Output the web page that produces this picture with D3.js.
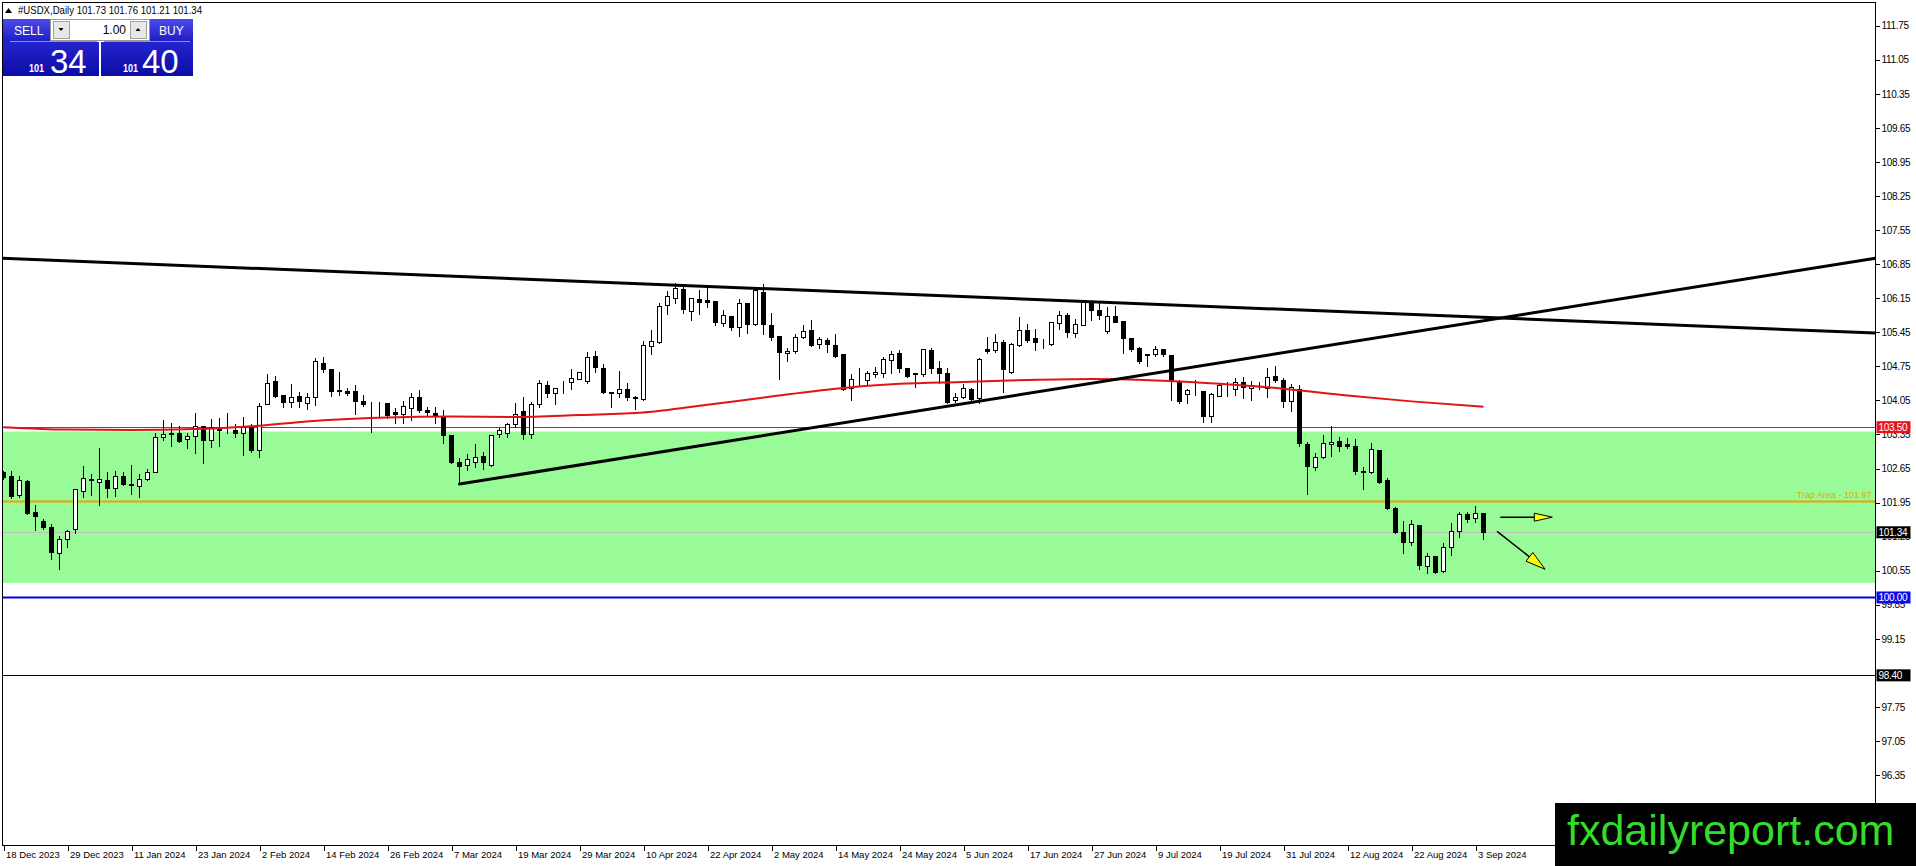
<!DOCTYPE html>
<html>
<head>
<meta charset="utf-8">
<script src="https://cdn.jsdelivr.net/npm/d3@7"></script>
<style>
  html, body { margin: 0; padding: 0; background: #fff; overflow: hidden; }
  svg { display: block; font-family: "Liberation Sans", Arial, sans-serif; }
</style>
</head>
<body>
<div id="chart"></div>
<script>
// daily candles, bar 0 = 18 Dec 2023 ... bar 185 = 4 Sep 2024
const opens = [
  102.58,102.50,102.11,102.40,101.75,101.57,101.44,100.91,101.21,101.40,
  102.19,102.43,102.38,102.41,102.26,102.50,102.33,102.30,102.43,102.57,
  103.29,103.37,103.39,103.25,103.32,103.53,103.24,103.47,103.47,103.44,
  103.39,103.50,103.04,103.97,104.45,104.16,104.01,104.14,103.99,104.11,
  104.81,104.69,104.26,104.24,104.24,104.04,103.94,103.94,104.00,103.82,
  103.78,103.90,104.11,103.85,103.80,103.73,103.34,102.78,102.73,102.79,
  102.91,102.73,103.36,103.38,103.56,103.83,103.35,103.97,104.37,104.20,
  104.29,104.42,104.50,104.44,104.96,104.72,104.22,104.20,104.28,104.11,
  104.07,105.17,105.24,106.01,106.16,106.34,105.89,106.13,106.11,106.09,
  105.65,105.79,105.55,106.05,105.63,106.27,105.60,105.37,105.02,105.07,
  105.35,105.50,105.21,105.29,105.19,105.00,104.30,104.48,104.46,104.59,
  104.61,104.89,105.02,104.71,104.61,104.59,105.09,104.71,104.61,104.05,
  104.13,104.28,104.09,105.10,105.09,105.26,104.64,105.19,105.50,105.33,
  105.25,105.20,105.64,105.81,105.44,105.60,106.05,105.91,105.48,105.79,
  105.68,105.33,105.12,104.98,105.00,105.10,104.98,104.42,104.18,104.25,
  104.25,103.72,104.14,104.30,104.29,104.42,104.31,104.33,104.30,104.55,
  104.46,104.03,104.28,103.16,102.69,102.88,103.16,103.22,103.16,103.11,
  102.60,102.57,103.03,102.42,101.83,101.34,101.14,101.49,100.65,100.85,
  100.55,101.03,101.37,101.72,101.64,101.73
];
const highs = [
  102.62,102.62,102.52,102.43,101.93,101.63,101.54,101.28,101.40,102.22,
  102.72,102.55,103.10,102.60,102.63,102.60,102.74,102.56,102.67,103.41,
  103.66,103.61,103.54,103.41,103.82,103.54,103.68,103.70,103.82,103.58,
  103.73,103.58,104.02,104.61,104.58,104.16,104.41,104.25,104.23,104.95,
  104.97,104.69,104.65,104.33,104.39,104.19,104.04,104.04,104.00,103.92,
  104.06,104.22,104.28,103.94,103.94,103.87,103.34,102.88,102.96,103.17,
  103.00,103.35,103.50,103.61,104.02,104.14,104.04,104.48,104.47,104.33,
  104.46,104.71,104.63,105.07,105.09,104.81,104.23,104.68,104.42,104.16,
  105.29,105.51,106.08,106.32,106.49,106.42,106.16,106.34,106.39,106.09,
  105.92,105.81,106.15,106.08,106.35,106.46,105.87,105.37,105.15,105.43,
  105.63,105.72,105.37,105.36,105.43,105.02,104.61,104.74,104.68,104.76,
  104.96,105.09,105.10,104.74,104.61,105.12,105.14,104.88,104.74,104.23,
  104.40,104.33,104.94,105.37,105.43,105.31,105.26,105.79,105.64,105.53,
  105.33,105.66,105.91,105.87,105.74,106.11,106.08,106.11,105.98,106.01,
  105.70,105.36,105.16,105.00,105.19,105.12,104.98,104.50,104.30,104.48,
  104.27,104.23,104.42,104.44,104.53,104.55,104.47,104.44,104.73,104.77,
  104.53,104.40,104.39,103.22,102.98,103.36,103.55,103.31,103.29,103.27,
  102.70,103.20,103.05,102.47,101.87,101.59,101.61,101.51,100.94,100.87,
  101.15,101.56,101.77,101.77,101.90,101.76
];
const lows = [
  102.43,102.04,102.07,101.72,101.39,101.41,100.79,100.59,101.04,101.32,
  102.06,102.10,101.90,102.06,102.09,102.31,102.13,102.07,102.41,102.57,
  103.24,103.11,103.20,103.08,102.96,102.76,103.10,103.11,103.37,103.29,
  102.93,102.99,102.88,103.97,104.11,103.92,103.92,103.92,103.87,103.95,
  104.64,104.15,104.16,104.16,103.78,103.94,103.41,103.71,103.68,103.58,
  103.58,103.65,103.82,103.73,103.58,103.18,102.76,102.33,102.61,102.69,
  102.65,102.70,103.30,103.30,103.50,103.25,103.28,103.91,104.11,103.98,
  104.21,104.28,104.48,104.40,104.64,104.21,103.91,104.11,104.06,103.87,
  104.05,105.00,105.22,105.82,106.05,105.85,105.70,105.82,105.96,105.59,
  105.57,105.50,105.38,105.43,105.60,105.41,105.29,104.50,104.85,105.02,
  105.33,105.17,105.12,105.05,104.95,104.26,104.06,104.37,104.37,104.54,
  104.54,104.61,104.64,104.54,104.33,104.55,104.61,104.40,104.00,104.02,
  104.09,104.02,103.99,105.02,105.05,104.23,104.62,105.16,105.26,105.09,
  105.12,105.19,105.51,105.35,105.35,105.59,105.70,105.72,105.44,105.66,
  105.02,105.07,104.81,104.76,104.97,104.97,104.06,104.00,104.00,104.16,
  103.61,103.61,104.14,104.14,104.16,104.09,104.06,104.28,104.11,104.42,
  103.91,103.84,103.11,102.13,102.62,102.86,102.90,103.00,103.07,102.54,
  102.23,102.55,102.36,101.82,101.33,100.91,101.07,100.58,100.51,100.50,
  100.53,100.87,101.24,101.55,101.55,101.21
];
const closes = [
  102.47,102.08,102.41,101.73,101.68,101.44,100.93,101.20,101.37,102.22,
  102.45,102.42,102.43,102.26,102.50,102.33,102.32,102.43,102.57,103.30,
  103.35,103.35,103.22,103.32,103.53,103.24,103.50,103.45,103.46,103.37,
  103.50,103.03,103.93,104.41,104.15,104.02,104.11,104.04,104.11,104.86,
  104.69,104.25,104.24,104.21,104.04,103.97,103.93,103.94,103.75,103.78,
  103.93,104.11,103.85,103.82,103.75,103.34,102.78,102.71,102.84,102.89,
  102.79,103.34,103.44,103.56,103.78,103.35,103.97,104.40,104.21,104.30,
  104.28,104.52,104.63,104.94,104.74,104.23,104.20,104.28,104.11,104.09,
  105.18,105.27,105.99,106.20,106.35,105.92,106.15,106.08,106.08,105.67,
  105.81,105.55,106.06,105.63,106.32,105.61,105.36,105.05,105.07,105.36,
  105.48,105.19,105.31,105.21,104.97,104.28,104.48,104.48,104.61,104.63,
  104.91,105.00,104.72,104.55,104.59,105.11,104.72,104.61,104.02,104.13,
  104.30,104.08,104.91,105.07,105.24,104.69,105.20,105.50,105.29,105.24,
  105.24,105.66,105.81,105.46,105.62,106.08,105.90,105.81,105.79,105.67,
  105.33,105.10,104.85,105.00,105.10,105.00,104.44,104.04,104.27,104.25,
  103.72,104.18,104.37,104.30,104.42,104.32,104.37,104.33,104.53,104.46,
  104.03,104.32,103.18,102.71,102.88,103.17,103.20,103.12,103.11,102.59,
  102.57,103.05,102.38,101.83,101.35,101.15,101.51,100.66,100.86,100.53,
  101.03,101.37,101.72,101.61,101.73,101.34
];

// time axis labels, one every 8 bars
const dateBars = [0,8,16,24,32,40,48,56,64,72,80,88,96,104,112,120,128,136,144,152,160,168,176,184];
const dateLabels = [
  "18 Dec 2023","29 Dec 2023","11 Jan 2024","23 Jan 2024","2 Feb 2024","14 Feb 2024",
  "26 Feb 2024","7 Mar 2024","19 Mar 2024","29 Mar 2024","10 Apr 2024","22 Apr 2024",
  "2 May 2024","14 May 2024","24 May 2024","5 Jun 2024","17 Jun 2024","27 Jun 2024",
  "9 Jul 2024","19 Jul 2024","31 Jul 2024","12 Aug 2024","22 Aug 2024","3 Sep 2024"
];

// price scale ticks (the ones not covered by price tags / logo)
const priceTicks = [111.75,111.05,110.35,109.65,108.95,108.25,107.55,106.85,106.15,105.45,
  104.75,104.05,103.35,102.65,101.95,101.25,100.55,99.85,99.15,97.75,97.05,96.35];

const maBars = [0,8,16,24,32,40,48,56,64,72,80,88,96,104,112,120,128,136,144,152,160,168,176,185];
const maVals = [103.50,103.45,103.44,103.46,103.53,103.64,103.70,103.72,103.71,103.75,103.80,103.96,
  104.13,104.29,104.39,104.43,104.47,104.49,104.46,104.39,104.29,104.15,104.03,103.92];

// drawn objects (bar, price)
const trendDown = [[0, 106.97], [233.9, 105.435]];
const trendUp = [[57, 102.33], [233.9, 106.97]];
const arrowFlat = [[187.1, 101.65], [193.6, 101.65]];
const arrowDown = [[186.7, 101.36], [192.7, 100.58]];

const zoneTop = 103.41, zoneBottom = 100.30;
const resistance = 103.50, trapLevel = 101.97, bidPrice = 101.34, supportLevel = 100.00, lowLevel = 98.40;
const askPrice = 101.40;

const W = 1916, H = 866;
const plotLeft = 2.5, plotRight = 1875.5, plotTop = 2.5, plotBottom = 845.5;

const svg = d3.select("#chart").append("svg").attr("width", W).attr("height", H);

const x = d3.scaleLinear().domain([0, 185]).range([3.5, 1483.5]);
const y = d3.scaleLinear().domain([111.75, 96.35]).range([25.7, 775.1]);
const py = (p) => Math.round(y(p)) + 0.5;

const defs = svg.append("defs");
defs.append("clipPath").attr("id", "plot")
  .append("rect").attr("x", plotLeft).attr("y", plotTop)
  .attr("width", plotRight - plotLeft).attr("height", plotBottom - plotTop);

const plot = svg.append("g").attr("clip-path", "url(#plot)");

// green zone
plot.append("rect")
  .attr("x", plotLeft).attr("width", plotRight - plotLeft)
  .attr("y", y(zoneTop)).attr("height", y(zoneBottom) - y(zoneTop))
  .attr("fill", "#98fb98");

// horizontal levels
function hline(p, color, w, crisp) {
  const yy = crisp ? py(p) : y(p);
  plot.append("line").attr("x1", plotLeft).attr("x2", plotRight).attr("y1", yy).attr("y2", yy)
    .attr("stroke", color).attr("stroke-width", w);
}
hline(bidPrice, "#c0c0c0", 1, true);
hline(resistance, "#d42020", 1, true);
hline(trapLevel, "#f0a000", 2, false);
hline(supportLevel, "#0000e0", 2, false);
hline(lowLevel, "#000", 1, true);

plot.append("text")
  .attr("x", plotRight - 4).attr("y", y(trapLevel) - 4)
  .attr("text-anchor", "end").attr("font-size", "9px").attr("fill", "#f0a000")
  .text("Trap Area - " + trapLevel.toFixed(2));

// candles
const bars = d3.range(opens.length);
const candles = plot.append("g").attr("shape-rendering", "crispEdges");
bars.forEach((i) => {
  const cx = x(i);
  const up = closes[i] >= opens[i];
  candles.append("line")
    .attr("x1", cx).attr("x2", cx)
    .attr("y1", py(highs[i])).attr("y2", py(lows[i]))
    .attr("stroke", "#000");
  const t = py(Math.max(opens[i], closes[i]));
  const b = py(Math.min(opens[i], closes[i]));
  candles.append("rect")
    .attr("x", cx - 2).attr("width", 4)
    .attr("y", t).attr("height", Math.max(b - t, 0))
    .attr("fill", up ? "#fff" : "#000")
    .attr("stroke", "#000");
});

// moving average
const maLine = d3.line().x((d) => x(d[0])).y((d) => y(d[1])).curve(d3.curveMonotoneX);
plot.append("path")
  .attr("d", maLine(maBars.map((b, k) => [b, maVals[k]])))
  .attr("fill", "none").attr("stroke", "#e01414").attr("stroke-width", 2);

// trendlines
function trend(pts, fromBar, toBar) {
  const [a, b] = pts;
  const s = (b[1] - a[1]) / (b[0] - a[0]);
  const at = (bar) => a[1] + (bar - a[0]) * s;
  plot.append("line")
    .attr("x1", x(fromBar)).attr("y1", y(at(fromBar)))
    .attr("x2", x(toBar)).attr("y2", y(at(toBar)))
    .attr("stroke", "#000").attr("stroke-width", 3).attr("stroke-linecap", "round");
}
const edgeBar = x.invert(plotRight);
trend(trendDown, x.invert(plotLeft), edgeBar);
trend(trendUp, trendUp[0][0], edgeBar);

// arrows
function arrow(pts, len, half) {
  const x1 = x(pts[0][0]), y1 = y(pts[0][1]), x2 = x(pts[1][0]), y2 = y(pts[1][1]);
  const ang = Math.atan2(y2 - y1, x2 - x1);
  const bx = x2 - len * Math.cos(ang), by = y2 - len * Math.sin(ang);
  const nx = -Math.sin(ang) * half, ny = Math.cos(ang) * half;
  plot.append("line").attr("x1", x1).attr("y1", y1).attr("x2", bx).attr("y2", by)
    .attr("stroke", "#000").attr("stroke-width", 1.5);
  plot.append("polygon")
    .attr("points", [[x2, y2], [bx + nx, by + ny], [bx - nx, by - ny]].map((p) => p.join(",")).join(" "))
    .attr("fill", "#ffff00").attr("stroke", "#000").attr("stroke-width", 1);
}
arrow(arrowFlat, 18, 4);
arrow(arrowDown, 20, 5.5);

// frame
svg.append("rect").attr("x", plotLeft).attr("y", plotTop)
  .attr("width", plotRight - plotLeft).attr("height", plotBottom - plotTop)
  .attr("fill", "none").attr("stroke", "#000").attr("shape-rendering", "crispEdges");

// price axis
const yAxis = svg.append("g").attr("transform", `translate(${plotRight},0)`)
  .call(d3.axisRight(y).tickValues(priceTicks).tickSize(4).tickPadding(2).tickFormat(d3.format(".2f")));
yAxis.select(".domain").remove();
yAxis.selectAll("line").attr("shape-rendering", "crispEdges");
yAxis.selectAll("text").attr("font-size", "10px").attr("fill", "#000")
  .attr("font-family", "'Liberation Sans', Arial, sans-serif").style("letter-spacing", "-0.3px");

// time axis
const xAxis = svg.append("g").attr("transform", `translate(0,${plotBottom})`)
  .call(d3.axisBottom(x).tickValues(dateBars).tickSize(5).tickPadding(1)
    .tickFormat((d, i) => dateLabels[i]));
xAxis.select(".domain").remove();
xAxis.selectAll("line").attr("shape-rendering", "crispEdges");
xAxis.selectAll("text").attr("text-anchor", "start").attr("x", 2)
  .attr("font-size", "9.5px").attr("fill", "#000")
  .attr("font-family", "'Liberation Sans', Arial, sans-serif");

// price tags on the axis
function tag(p, bg) {
  const g = svg.append("g");
  g.append("rect").attr("x", plotRight + 1).attr("y", y(p) - 6).attr("width", 34).attr("height", 12).attr("fill", bg);
  g.append("text").attr("x", plotRight + 3).attr("y", y(p) + 4)
    .attr("font-size", "10px").attr("fill", "#fff").style("letter-spacing", "-0.3px")
    .text(p.toFixed(2));
}
tag(resistance, "#e8141c");
tag(bidPrice, "#000");
tag(supportLevel, "#0a0af0");
tag(lowLevel, "#000");

// header line
svg.append("path").attr("d", "M5,13 L8.5,8 L12,13 Z").attr("fill", "#000");
svg.append("text").attr("x", 18).attr("y", 14)
  .attr("font-size", "10.5px").attr("fill", "#000")
  .attr("textLength", 184).attr("lengthAdjust", "spacingAndGlyphs")
  .text(`#USDX,Daily  ${opens[185].toFixed(2)} ${highs[185].toFixed(2)} ${lows[185].toFixed(2)} ${closes[185].toFixed(2)}`);

// one-click trading panel
const g1 = defs.append("linearGradient").attr("id", "btn").attr("x1", 0).attr("y1", 0).attr("x2", 0).attr("y2", 1);
g1.append("stop").attr("offset", "0%").attr("stop-color", "#4b4bea");
g1.append("stop").attr("offset", "100%").attr("stop-color", "#1d1dc4");
const g2 = defs.append("linearGradient").attr("id", "px").attr("x1", 0).attr("y1", 0).attr("x2", 0).attr("y2", 1);
g2.append("stop").attr("offset", "0%").attr("stop-color", "#2424cf");
g2.append("stop").attr("offset", "100%").attr("stop-color", "#0c0ca6");

const panel = svg.append("g").attr("shape-rendering", "crispEdges");
panel.append("rect").attr("x", 3).attr("y", 19).attr("width", 47).attr("height", 23).attr("fill", "url(#btn)");
panel.append("rect").attr("x", 149).attr("y", 19).attr("width", 44).attr("height", 23).attr("fill", "url(#btn)");
panel.append("rect").attr("x", 50).attr("y", 19).attr("width", 99).attr("height", 21).attr("fill", "#fff").attr("stroke", "#9a9a9a");
panel.append("rect").attr("x", 53).attr("y", 21).attr("width", 16).attr("height", 17).attr("fill", "#e8e8e8").attr("stroke", "#a0a0a0");
panel.append("rect").attr("x", 130).attr("y", 21).attr("width", 16).attr("height", 17).attr("fill", "#e8e8e8").attr("stroke", "#a0a0a0");
panel.append("rect").attr("x", 3).attr("y", 42).attr("width", 96).attr("height", 34).attr("fill", "url(#px)");
panel.append("rect").attr("x", 101).attr("y", 42).attr("width", 92).attr("height", 34).attr("fill", "url(#px)");
panel.append("line").attr("x1", 10).attr("x2", 97).attr("y1", 41.5).attr("y2", 41.5).attr("stroke", "#8c8cf5");
panel.append("line").attr("x1", 104).attr("x2", 190).attr("y1", 41.5).attr("y2", 41.5).attr("stroke", "#8c8cf5");
svg.append("path").attr("d", "M58.5,28 L63.5,28 L61,31 Z").attr("fill", "#000");
svg.append("path").attr("d", "M135.5,31 L140.5,31 L138,28 Z").attr("fill", "#000");
svg.append("text").attr("x", 14).attr("y", 35).attr("font-size", "12px").attr("fill", "#fff").text("SELL");
svg.append("text").attr("x", 159).attr("y", 35).attr("font-size", "12px").attr("fill", "#fff").text("BUY");
svg.append("text").attr("x", 126).attr("y", 34).attr("text-anchor", "end").attr("font-size", "12px").attr("fill", "#000").text("1.00");

function bigPrice(p, xs, xb) {
  const s = p.toFixed(2).split(".");
  svg.append("text").attr("x", xs).attr("y", 72).attr("font-size", "11px").attr("font-weight", "bold")
    .attr("fill", "#fff").attr("textLength", 15).attr("lengthAdjust", "spacingAndGlyphs").text(s[0]);
  svg.append("text").attr("x", xb).attr("y", 73).attr("font-size", "33px").attr("fill", "#fff").text(s[1]);
}
bigPrice(bidPrice, 29, 50);
bigPrice(askPrice, 123, 142);

// logo
svg.append("rect").attr("x", 1555).attr("y", 803).attr("width", W - 1555).attr("height", H - 803).attr("fill", "#000");
svg.append("text").attr("x", 1567).attr("y", 845)
  .attr("font-size", "43px").attr("fill", "#34dc2c")
  .attr("font-family", "'Liberation Sans', Arial, sans-serif")
  .text("fxdailyreport.com");
</script>
</body>
</html>
